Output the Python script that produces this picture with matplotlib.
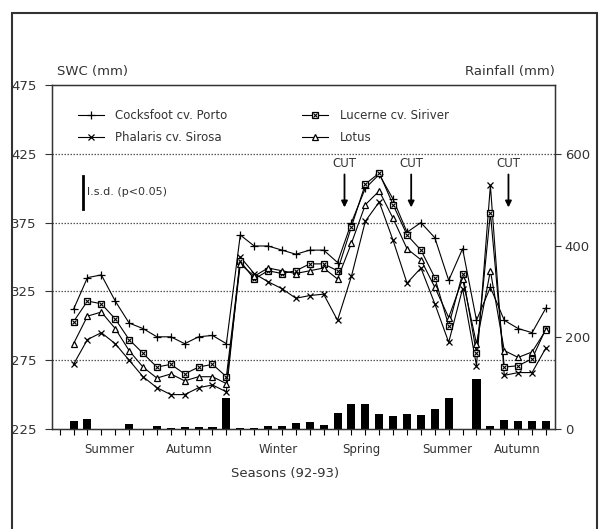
import matplotlib
matplotlib.use("Agg")
import matplotlib.pyplot as plt
from matplotlib.patches import Rectangle
from matplotlib.legend_handler import HandlerTuple

plt.rcParams['font.family'] = ['DejaVu Sans']

# ---- data ----
weeks = list(range(0, 36))
rainfall = [0, 17, 22, 0, 0, 10, 0, 7, 3, 5, 5, 5, 67, 3, 3, 6, 7, 12, 16, 8,
            35, 55, 55, 33, 28, 33, 30, 43, 68, 0, 108, 6, 20, 17, 17, 17]

swc_weeks = list(range(1, 36))
cocksfoot = [312, 335, 337, 318, 302, 298, 292, 292, 287, 292, 293, 287,
             366, 358, 358, 355, 352, 355, 355, 346,
             375, 400, 410, 392, 368, 375, 364, 333, 356, 304, 328,
             304, 298, 295, 313]
lucerne = [303, 318, 316, 305, 290, 280, 270, 272, 265, 270, 272, 263,
           347, 334, 340, 338, 340, 345, 345, 340,
           372, 403, 411, 388, 366, 355, 335, 300, 338, 280, 382,
           270, 271, 276, 298]
lotus = [287, 307, 310, 298, 282, 270, 262, 265, 260, 263, 263, 258,
         345, 336, 342, 340, 338, 340, 342, 334,
         360, 388, 398, 378, 356, 348, 328, 306, 334, 287, 340,
         282, 277, 281, 297]
phalaris = [272, 290, 295, 287, 275, 263, 255, 250, 250, 255, 257, 252,
            350, 338, 332, 327, 320, 322, 323, 304,
            336, 376, 390, 362, 331, 342, 316, 288, 327, 271, 402,
            264, 266, 266, 284]

season_labels = ["Summer", "Autumn", "Winter", "Spring", "Summer", "Autumn"]
season_pos = [3.6, 9.3, 15.75, 21.7, 27.9, 32.9]
cut_pos = [20.5, 25.3, 32.3]
lsd_value = 24

# ---- figure ----
fig = plt.figure(figsize=(6.0, 5.29), dpi=100)
ax = fig.add_axes([52/600, 1-429/529, (555-52)/600, (429-85)/529])
ax2 = ax.twinx()

# rainfall bars on secondary axis
ax2.bar(weeks, rainfall, width=0.58, color='black', zorder=2)
ax2.set_ylim(0, 750)
ax2.set_yticks([0, 200, 400, 600])
ax2.tick_params(axis='y', direction='out', length=4, width=0.8, labelsize=9.5, pad=3, colors='#333333')
ax2.text(1.0, 1.02, "Rainfall (mm)", transform=ax2.transAxes, ha='right', va='bottom',
         fontsize=9.5, color='#333333')

ax.set_zorder(ax2.get_zorder() + 1)
ax.patch.set_visible(False)

lw = 0.8
ms = 5
l1, = ax.plot(swc_weeks, cocksfoot, color='black', lw=lw, marker='+', ms=ms+1, mew=0.9)
l2, = ax.plot(swc_weeks, phalaris, color='black', lw=lw, marker='x', ms=ms, mew=0.9)
l3a, = ax.plot(swc_weeks, lucerne, color='black', lw=lw, marker='s', ms=ms-0.5, mfc='white', mec='black', mew=0.9)
l3b, = ax.plot(swc_weeks, lucerne, color='black', lw=0, marker='x', ms=ms-1.5, mew=0.8)
l4, = ax.plot(swc_weeks, lotus, color='black', lw=lw, marker='^', ms=ms, mfc='white', mec='black', mew=0.9)

ax.set_ylim(225, 475)
ax.set_xlim(-0.55, 35.65)
ax.set_yticks([225, 275, 325, 375, 425, 475])
ax.set_xticks(weeks)
ax.set_xticklabels([])
ax.tick_params(axis='y', direction='out', length=5, width=0.8, labelsize=9.5, pad=6, colors='#333333')
ax.tick_params(axis='x', direction='out', length=4, width=0.8)
for y in [275, 325, 375, 425]:
    ax.axhline(y, color='#555555', lw=0.9, ls=(0, (1.2, 1.2)), zorder=0)
for s in ax.spines.values():
    s.set_linewidth(1.0)
    s.set_color('#333333')

ax.text(0.01, 1.02, "SWC (mm)", transform=ax.transAxes, ha='left', va='bottom',
        fontsize=9.5, color='#333333')

# season labels
for lab, p in zip(season_labels, season_pos):
    ax.text(p, -0.06, lab, transform=ax.get_xaxis_transform(), ha='center', va='center',
            fontsize=8.5, color='#333333')
ax.text(16.2, -0.128, "Seasons (92-93)", transform=ax.get_xaxis_transform(), ha='center',
        va='center', fontsize=9.5, color='#333333')

# CUT arrows
for p in cut_pos:
    ax.text(p, 418, "CUT", ha='center', va='center', fontsize=8.5, color='#333333')
    ax.annotate("", xy=(p, 384), xytext=(p, 412),
                arrowprops=dict(arrowstyle='-|>', color='black', lw=1.3, mutation_scale=9))

# lsd bar
lsd_base = 385
ax.plot([1.7, 1.7], [lsd_base, lsd_base + lsd_value], color='black', lw=2.0)
ax.text(2.0, lsd_base + lsd_value / 2, "l.s.d. (p<0.05)", ha='left', va='center', fontsize=8, color='#333333')

# legend
leg = ax.legend([l1, l2, (l3a, l3b), l4],
                ["Cocksfoot cv. Porto", "Phalaris cv. Sirosa", "Lucerne cv. Siriver", "Lotus"],
                handler_map={tuple: HandlerTuple(ndivide=1, pad=0)},
                loc='upper left', bbox_to_anchor=(0.03, 0.96), ncol=2, frameon=False,
                fontsize=8.5, handlelength=2.2, columnspacing=6.3, labelspacing=0.75,
                handletextpad=1.0)
for t in leg.get_texts():
    t.set_color('#333333')

# outer frame
fig.patches.append(Rectangle((12/600, -0.05), (597-12)/600, 1-13/529+0.05,
                             transform=fig.transFigure, fill=False, ec='#333333', lw=1.5))

fig.savefig("out.png", dpi=100)
